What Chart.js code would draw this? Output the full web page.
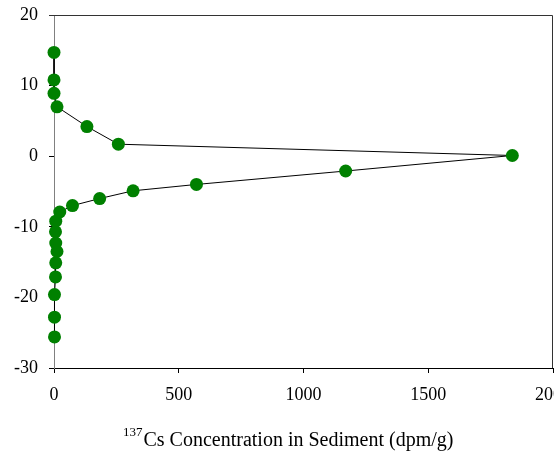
<!DOCTYPE html>
<html>
<head>
<meta charset="utf-8">
<script src="https://cdn.jsdelivr.net/npm/chart.js@4.4.0/dist/chart.umd.min.js"></script>
<style>
  html, body { margin: 0; padding: 0; background: #fff; overflow: hidden; }
  #wrap { width: 554px; height: 455px; position: relative; }
</style>
</head>
<body>
<div id="wrap"><canvas id="myChart1"></canvas></div>
<script>
// 137Cs concentration (dpm/g) vs depth
var concentration = [0, 0, 0, 12, 132, 258, 1837, 1169, 571, 317, 183, 74, 23, 7, 6, 7, 12, 7, 6, 2, 2, 2];
var depth = [14.7, 10.8, 8.9, 7.0, 4.2, 1.7, 0.1, -2.1, -4.0, -4.9, -6.0, -7.0, -7.9, -9.2, -10.7, -12.3, -13.5, -15.1, -17.1, -19.6, -22.8, -25.6];
var xTicks = [0, 500, 1000, 1500, 2000];
var yTicks = [20, 10, 0, -10, -20, -30];

var points = concentration.map(function (c, i) {
    return { x: c, y: depth[i] };
});

var titlePlugin = {
    id: 'xTitle',
    afterDraw: function (chart) {
        var c = chart.ctx;
        c.save();
        c.fillStyle = '#000';
        c.textBaseline = 'alphabetic';
        c.font = '13px "Liberation Serif"';
        c.fillText('137', 123, 436);
        var w = c.measureText('137').width;
        c.font = '20px "Liberation Serif"';
        c.fillText('Cs Concentration in Sediment (dpm/g)', 123 + w + 1, 446);
        c.restore();
    }
};

var ctx = document.getElementById('myChart1');
new Chart(ctx, {
    type: 'scatter',
    data: {
        datasets: [
            {
                data: points,
                showLine: true,
                clip: false,
                borderColor: '#000',
                borderWidth: 1,
                pointRadius: 6.5,
                pointHoverRadius: 6.5,
                pointBackgroundColor: '#008000',
                pointBorderColor: '#008000',
                pointBorderWidth: 0
            }
        ]
    },
    options: {
        responsive: true,
        maintainAspectRatio: false,
        animation: false,
        events: [],
        layout: { autoPadding: false, padding: { top: 15, right: 1, left: 0, bottom: 0 } },
        plugins: {
            legend: { display: false },
            tooltip: { enabled: false }
        },
        scales: {
            x: {
                type: 'linear',
                min: 0,
                max: 2000,
                afterBuildTicks: function (s) {
                    s.ticks = xTicks.map(function (v) { return { value: v }; });
                },
                afterFit: function (s) {
                    s.height = 87;
                    s.paddingRight = 0;
                    s.paddingLeft = 0;
                },
                grid: { display: true, drawOnChartArea: false, tickLength: 5, color: '#000', tickColor: '#000' },
                border: { display: true, color: '#000', width: 1 },
                ticks: {
                    color: '#000',
                    padding: 11,
                    maxRotation: 0,
                    autoSkip: false,
                    callback: function (v) { return String(v); },
                    font: { family: 'Liberation Serif', size: 18 }
                }
            },
            y: {
                type: 'linear',
                min: -30,
                max: 20,
                afterBuildTicks: function (s) {
                    s.ticks = yTicks.map(function (v) { return { value: v }; });
                },
                afterFit: function (s) {
                    s.width = 54;
                    s.paddingTop = 0;
                    s.paddingBottom = 0;
                },
                grid: { display: true, drawOnChartArea: false, tickLength: 5, color: '#808080', tickColor: '#000' },
                border: { display: true, color: '#808080', width: 1 },
                ticks: {
                    color: '#000',
                    padding: 11,
                    autoSkip: false,
                    callback: function (v) { return String(v); },
                    font: { family: 'Liberation Serif', size: 18 }
                }
            }
        }
    },
    plugins: [titlePlugin, {
        id: 'frame',
        beforeDatasetsDraw: function (chart) {
            var a = chart.chartArea;
            var c = chart.ctx;
            c.save();
            c.strokeStyle = '#333';
            c.lineWidth = 1;
            c.beginPath();
            c.moveTo(a.left - 5, Math.round(a.top) + 0.5);
            c.lineTo(Math.round(a.right) - 0.5, Math.round(a.top) + 0.5);
            c.lineTo(Math.round(a.right) - 0.5, a.bottom);
            c.stroke();
            c.restore();
        }
    }]
});
</script>
</body>
</html>
